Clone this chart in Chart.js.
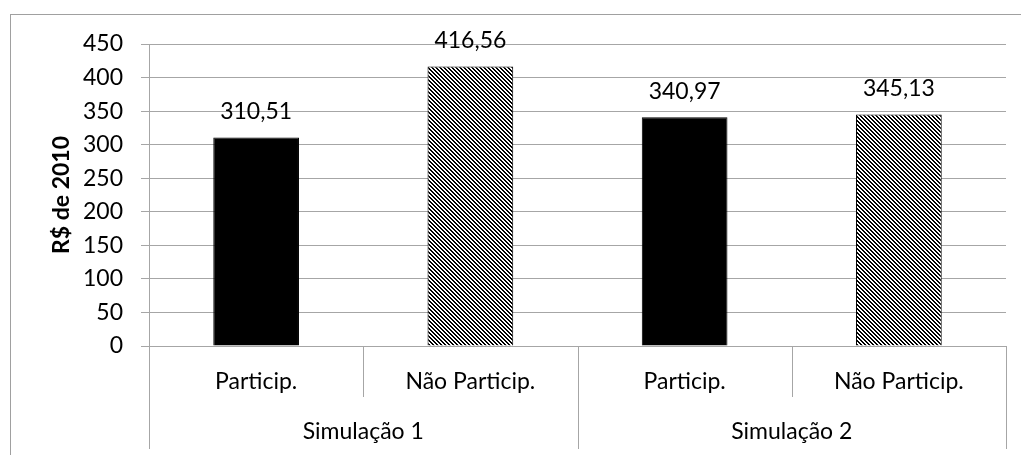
<!DOCTYPE html>
<html>
<head>
<meta charset="utf-8">
<script src="https://cdn.jsdelivr.net/npm/chart.js@4.4.1/dist/chart.umd.min.js"></script>
<style>
  html, body { margin: 0; padding: 0; background: #fff; }
  #wrap { width: 1021px; height: 455px; position: relative; }
</style>
</head>
<body>
<div id="wrap"><canvas id="c" width="1021" height="455"></canvas></div>
<script>
// Groups, categories and values
const groups = ['Simulação 1', 'Simulação 2'];
const categories = ['Particip.', 'Não Particip.', 'Particip.', 'Não Particip.'];
const groupOfCategory = [0, 0, 1, 1];
const values = [310.51, 416.56, 340.97, 345.13];
const yTicks = [0, 50, 100, 150, 200, 250, 300, 350, 400, 450];
const yTitle = 'R$ de 2010';

const FONT = 'Lato, "Open Sans", sans-serif';
const FS = 23;
const GRID = '#a6a6a6';

// Hatch fill: dense downward diagonal lines
function makeHatch() {
  const t = document.createElement('canvas');
  t.width = 4; t.height = 4;
  const g = t.getContext('2d');
  g.fillStyle = '#fff';
  g.fillRect(0, 0, 4, 4);
  g.fillStyle = '#000';
  for (let i = 0; i < 4; i++) {
    g.fillRect(i, i, 1, 1);
    g.fillRect((i + 1) % 4, i, 1, 1);
  }
  return document.getElementById('c').getContext('2d').createPattern(t, 'repeat');
}
const hatch = makeHatch();
const fills = categories.map((c, i) => (i % 2 === 0 ? '#000' : hatch));

function fmt(v) { return v.toFixed(2).replace('.', ','); }

const decor = {
  id: 'decor',
  beforeDraw(chart) {
    const ctx = chart.ctx;
    ctx.save();
    ctx.strokeStyle = '#a0a0a0';
    ctx.lineWidth = 1;
    ctx.strokeRect(10.5, 14.5, 1040, 480);
    ctx.restore();
  },
  afterDraw(chart) {
    const ctx = chart.ctx;
    const area = chart.chartArea;
    const x = chart.scales.x;
    const n = categories.length;
    const bounds = [];
    for (let i = 0; i <= n; i++) {
      if (i === 0) bounds.push(area.left);
      else if (i === n) bounds.push(area.right);
      else bounds.push((x.getPixelForValue(i - 1) + x.getPixelForValue(i)) / 2);
    }
    ctx.save();
    ctx.strokeStyle = GRID;
    ctx.lineWidth = 1;
    // category separators; group boundaries run to the lower row
    for (let i = 0; i <= n; i++) {
      const groupEdge = i === 0 || i === n || groupOfCategory[i] !== groupOfCategory[i - 1];
      const px = Math.round(bounds[i]) + 0.5;
      ctx.beginPath();
      ctx.moveTo(px, area.bottom);
      ctx.lineTo(px, area.bottom + (groupEdge ? 103 : 51));
      ctx.stroke();
    }
    // group labels
    ctx.fillStyle = '#000';
    ctx.font = FS + 'px ' + FONT;
    ctx.textAlign = 'center';
    ctx.textBaseline = 'middle';
    groups.forEach((g, gi) => {
      const idx = groupOfCategory.map((v, i) => (v === gi ? i : -1)).filter(i => i >= 0);
      const l = bounds[idx[0]], r = bounds[idx[idx.length - 1] + 1];
      ctx.fillText(g, (l + r) / 2, area.bottom + 86);
    });
    // value labels above bars
    const meta = chart.getDatasetMeta(0);
    meta.data.forEach((bar, i) => {
      ctx.fillText(fmt(values[i]), bar.x, bar.y - 26);
    });
    // axis title
    ctx.save();
    ctx.translate(62, (area.top + area.bottom) / 2);
    ctx.rotate(-Math.PI / 2);
    ctx.font = 'bold ' + FS + 'px ' + FONT;
    ctx.fillText(yTitle, 0, 0);
    ctx.restore();
    ctx.restore();
  }
};

new Chart(document.getElementById('c'), {
  type: 'bar',
  data: {
    labels: categories,
    datasets: [{
      data: values,
      backgroundColor: fills,
      borderColor: '#000',
      borderWidth: 1,
      barPercentage: 0.4,
      categoryPercentage: 1.0
    }]
  },
  options: {
    responsive: false,
    animation: false,
    events: [],
    layout: { padding: { top: 44, right: 15, left: 0, bottom: 0 } },
    plugins: { legend: { display: false }, tooltip: { enabled: false } },
    scales: {
      x: {
        offset: true,
        grid: { display: false, drawTicks: false },
        border: { display: false },
        ticks: { color: '#000', font: { family: FONT, size: FS }, padding: 22, maxRotation: 0 },
        afterFit(s) { s.height = 109; }
      },
      y: {
        min: 0, max: 450,
        afterBuildTicks(s) { s.ticks = yTicks.map(v => ({ value: v })); },
        grid: { color: GRID, tickLength: 8, tickColor: GRID },
        border: { color: GRID },
        ticks: { color: '#000', font: { family: FONT, size: FS }, padding: 18 },
        afterFit(s) { s.width = 149; }
      }
    }
  },
  plugins: [decor]
});
</script>
</body>
</html>
